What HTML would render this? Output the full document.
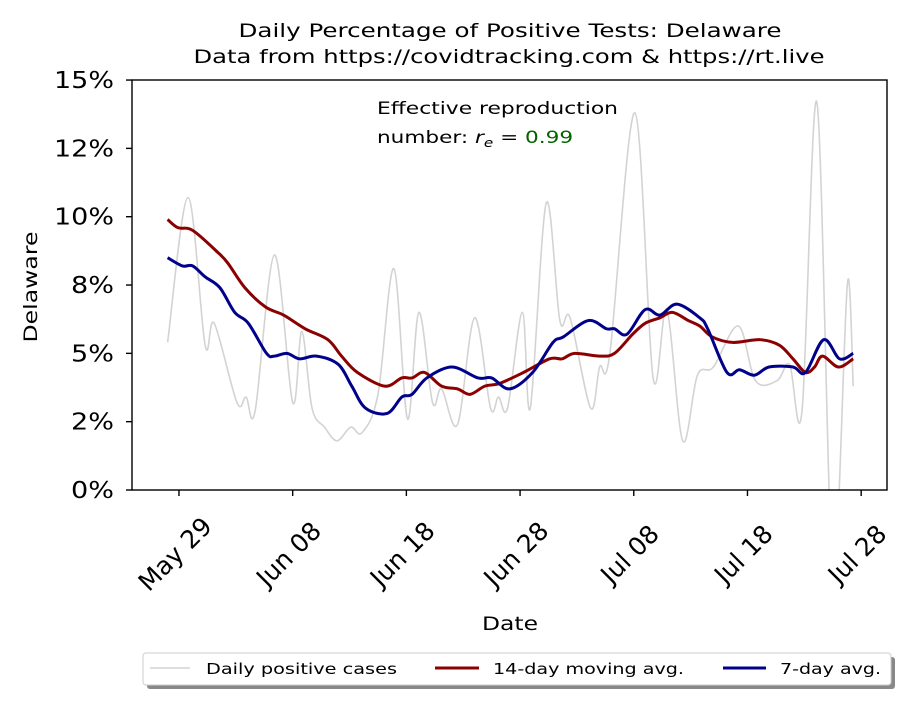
<!DOCTYPE html>
<html><head><meta charset="utf-8"><style>
body{margin:0;background:#fff;}
svg text{font-family:"DejaVu Sans","Liberation Sans",sans-serif;}
</style></head><body>
<svg id="chart" width="920" height="704" xmlns="http://www.w3.org/2000/svg">
<defs><clipPath id="clip"><rect x="132" y="80" width="755" height="410"/></clipPath></defs>
<rect width="920" height="704" fill="#fff"/>
<text x="510" y="37" font-size="19" text-anchor="middle" textLength="543" lengthAdjust="spacingAndGlyphs">Daily Percentage of Positive Tests: Delaware</text>
<text x="509" y="63" font-size="19" text-anchor="middle" textLength="631" lengthAdjust="spacingAndGlyphs">Data from https://covidtracking.com &amp; https://rt.live</text>
<g id="series" clip-path="url(#clip)"></g>
<rect x="132" y="80" width="755" height="410" fill="none" stroke="#000" stroke-width="1.4"/>
<g id="yaxis"></g><g id="xaxis"></g>
<text transform="translate(37,287) rotate(-90)" font-size="19" text-anchor="middle" textLength="111" lengthAdjust="spacingAndGlyphs">Delaware</text>
<text x="510" y="630" font-size="19" text-anchor="middle" textLength="56" lengthAdjust="spacingAndGlyphs">Date</text>
<text x="377" y="114" font-size="17" textLength="241" lengthAdjust="spacingAndGlyphs">Effective reproduction</text>
<g transform="translate(377,143) scale(1.27,1)">
<text x="0" y="0" font-size="17">number: <tspan font-style="italic">r</tspan><tspan font-style="italic" font-size="12" dy="4">e</tspan><tspan dy="-4"> = </tspan><tspan fill="#006400">0.99</tspan></text>
</g>
<g>
<rect x="147" y="657" width="748" height="32" rx="3" fill="#888"/>
<rect x="143" y="653" width="748" height="32" rx="3" fill="#fff" stroke="#ccc"/>
<line x1="150" y1="668" x2="190" y2="668" stroke="#d3d3d3" stroke-width="1.6"/>
<text x="206" y="674" font-size="15.5" textLength="191" lengthAdjust="spacingAndGlyphs">Daily positive cases</text>
<line x1="435" y1="668" x2="479" y2="668" stroke="#8b0000" stroke-width="3"/>
<text x="493" y="674" font-size="15.5" textLength="191" lengthAdjust="spacingAndGlyphs">14-day moving avg.</text>
<line x1="723" y1="668" x2="766" y2="668" stroke="#00008b" stroke-width="3"/>
<text x="780" y="674" font-size="15.5" textLength="101" lengthAdjust="spacingAndGlyphs">7-day avg.</text>
</g>
</svg>
<script>
// day offsets from May 28
const dailyDays=[0,1.8,3.3,4.1,6.1,6.9,7.7,9.4,11.0,11.8,12.7,13.8,14.9,16.1,17.1,18.5,19.9,21.1,22.1,23.3,24.1,25.5,27.0,28.4,29.1,29.9,31.2,31.9,33.3,34.5,35.4,37.2,38.0,38.9,41.1,42.7,43.9,45.3,46.6,48.0,50.2,51.7,53.6,54.7,55.8,57.1,58.3,58.9,59.8,60.3];
const dailyVals=[5.4,10.7,5.3,6.1,3.2,3.4,2.9,8.6,3.2,5.8,3.0,2.3,1.8,2.3,2.1,3.5,8.1,2.6,6.5,3.2,3.7,2.4,6.3,3.0,3.4,3.0,6.5,3.0,10.5,6.2,6.3,3.0,4.5,5.0,13.8,4.1,6.6,1.8,4.2,4.5,6.0,4.0,4.0,4.6,2.9,14.2,-1.5,-1.5,7.6,3.8];
const avg14Days=[0,0.9,2.2,4.4,5.3,6.8,8.6,10.2,12.1,14.1,15.3,16.7,19.1,20.6,21.5,22.6,24.1,25.5,26.6,27.9,29.2,31.3,33.6,34.7,35.8,38.0,39.3,40.9,42.0,43.3,44.4,45.8,46.8,47.9,49.7,52.1,53.8,55.0,56.1,56.9,57.6,59.0,60.3];
const avg14Vals=[9.9,9.6,9.5,8.7,8.3,7.4,6.7,6.4,5.9,5.5,4.9,4.3,3.8,4.1,4.1,4.3,3.8,3.7,3.5,3.8,3.9,4.3,4.8,4.8,5.0,4.9,5.0,5.7,6.1,6.3,6.5,6.2,6.0,5.6,5.4,5.5,5.3,4.8,4.3,4.5,4.9,4.5,4.8];
const avg7Days=[0,1.3,2.2,3.3,4.6,5.9,7.1,8.7,9.4,10.5,11.6,13.1,15.0,16.2,17.4,19.3,20.6,21.5,22.8,25.0,27.3,28.5,30.1,32.1,33.9,34.8,37.0,38.6,39.3,40.4,42.0,43.3,44.8,46.8,47.5,49.2,50.3,51.6,52.9,55.0,56.1,57.7,59.1,60.3];
const avg7Vals=[8.5,8.2,8.2,7.8,7.4,6.5,6.1,5.0,4.9,5.0,4.8,4.9,4.6,3.8,3.0,2.8,3.4,3.5,4.1,4.5,4.1,4.1,3.7,4.3,5.4,5.6,6.2,5.9,5.9,5.7,6.6,6.4,6.8,6.3,5.9,4.3,4.4,4.2,4.5,4.5,4.3,5.5,4.8,5.0];
const yTicks=[0,2.5,5,7.5,10,12.5,15];
const yTickLabels=['0%','2%','5%','8%','10%','12%','15%'];
const xTickDays=[1,11,21,31,41,51,61];
const xTickLabels=['May 29','Jun 08','Jun 18','Jun 28','Jul 08','Jul 18','Jul 28'];

const NS='http://www.w3.org/2000/svg';
const X=d=>167.6+d*11.37;
const Y=v=>490-v*27.33;
function mk(tag,attrs,parent){const e=document.createElementNS(NS,tag);for(const k in attrs)e.setAttribute(k,attrs[k]);parent.appendChild(e);return e;}
function pathD(ds,vs){
  const p=ds.map((d,i)=>[X(d),Y(vs[i])]);
  let s='M'+p[0][0]+','+p[0][1];
  for(let i=0;i<p.length-1;i++){
    const p0=p[i-1]||p[i],p1=p[i],p2=p[i+1],p3=p[i+2]||p2;
    const c1=[p1[0]+(p2[0]-p0[0])/6,p1[1]+(p2[1]-p0[1])/6];
    const c2=[p2[0]-(p3[0]-p1[0])/6,p2[1]-(p3[1]-p1[1])/6];
    s+=' C'+c1+' '+c2+' '+p2;
  }
  return s;
}
const g=document.getElementById('series');
let el=mk('path',{d:pathD(dailyDays,dailyVals),fill:'none',stroke:'#d3d3d3','stroke-width':1.6},g);


el=mk('path',{d:pathD(avg14Days,avg14Vals),fill:'none',stroke:'#8b0000','stroke-width':3},g);


el=mk('path',{d:pathD(avg7Days,avg7Vals),fill:'none',stroke:'#00008b','stroke-width':3},g);



const ya=document.getElementById('yaxis');
yTicks.forEach((v,i)=>{
  const t=mk('line',{x1:126,x2:132,y1:Y(v),y2:Y(v),stroke:'#000','stroke-width':1.4},ya);
  
  
  const l=mk('text',{x:114,y:Y(v)+8,'font-size':23,'text-anchor':'end'},ya);
  l.setAttribute('textLength',yTickLabels[i].length===3?60:43);
  l.setAttribute('lengthAdjust','spacingAndGlyphs');
  l.textContent=yTickLabels[i];
  
  
});
const xa=document.getElementById('xaxis');
xTickDays.forEach((d,i)=>{
  const x=X(d);
  const t=mk('line',{x1:x,x2:x,y1:490,y2:496,stroke:'#000','stroke-width':1.4},xa);
  
  
  const l=mk('text',{transform:'translate('+(x-4)+',554) rotate(-45)','font-size':25,'text-anchor':'middle',dy:'0.35em'},xa);
  l.textContent=xTickLabels[i];
  
  
});
</script>
</body></html>
